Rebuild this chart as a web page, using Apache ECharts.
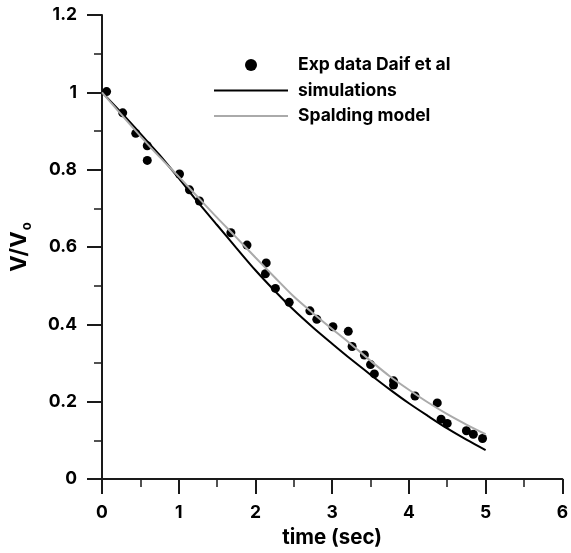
<!DOCTYPE html>
<html>
<head>
<meta charset="utf-8">
<script src="https://cdn.jsdelivr.net/npm/echarts@6/dist/echarts.min.js"></script>
<style>
  html, body { margin: 0; padding: 0; background: #fff; }
  #chart { width: 571px; height: 553px; }
</style>
</head>
<body>
<div id="chart"></div>
<script>
// Experimental droplet velocity ratio (Daif et al)
const timeExp = [0.06, 0.27, 0.44, 0.59, 0.59, 1.01, 1.14, 1.27, 1.68, 1.89, 2.13, 2.14, 2.26, 2.44,
                 2.71, 2.80, 3.01, 3.21, 3.26, 3.42, 3.50, 3.55, 3.80, 3.80, 4.08, 4.37, 4.42, 4.50,
                 4.75, 4.84, 4.96];
const vExp = [1.002, 0.947, 0.894, 0.862, 0.824, 0.789, 0.748, 0.719, 0.637, 0.605, 0.531, 0.559, 0.493, 0.457,
              0.435, 0.413, 0.394, 0.382, 0.343, 0.321, 0.296, 0.272, 0.254, 0.243, 0.215, 0.197, 0.155, 0.144,
              0.125, 0.116, 0.105];

// Model curves sampled every 0.25 s
const timeModel = [0, 0.25, 0.5, 0.75, 1.0, 1.25, 1.5, 1.75, 2.0, 2.25, 2.5, 2.75, 3.0, 3.25, 3.5, 3.75,
                   4.0, 4.25, 4.5, 4.75, 5.0];
const vSimulations = [1.0, 0.948, 0.893, 0.838, 0.778, 0.716, 0.657, 0.598, 0.540, 0.487, 0.437, 0.392,
                      0.350, 0.309, 0.270, 0.232, 0.196, 0.163, 0.131, 0.102, 0.075];
const vSpalding = [1.0, 0.943, 0.887, 0.833, 0.782, 0.729, 0.676, 0.625, 0.573, 0.522, 0.472, 0.429,
                   0.388, 0.348, 0.306, 0.266, 0.231, 0.198, 0.168, 0.141, 0.116];

const seriesNames = ['Exp data Daif et al', 'simulations', 'Spalding model'];
const xTitle = 'time (sec)';

const pairs = (xs, ys) => xs.map((x, i) => [x, ys[i]]);

const FONT = 'Inter, "Liberation Sans", Arial, sans-serif';
const AX = '#1a1a1a';
const GREY = '#aaaaaa';

const axisCommon = {
  axisLine: { show: true, onZero: false, lineStyle: { color: AX, width: 2 } },
  axisTick: { show: true, inside: false, length: 15, lineStyle: { color: AX, width: 2 } },
  minorTick: { show: true, splitNumber: 2, length: 8, lineStyle: { color: AX, width: 1.5 } },
  splitLine: { show: false },
  minorSplitLine: { show: false },
  axisLabel: { color: '#000', fontFamily: FONT, fontWeight: 'bold', fontSize: 17.5 }
};

const chart = echarts.init(document.getElementById('chart'), null, { renderer: 'canvas' });

chart.setOption({
  animation: false,
  backgroundColor: '#fff',
  grid: { left: 97.7, right: 5.3, top: 15, bottom: 71, containLabel: false },
  legend: {
    orient: 'vertical',
    left: 208,
    top: 51,
    itemWidth: 74,
    itemHeight: 12,
    itemGap: 7.5,
    textStyle: { color: '#000', fontFamily: FONT, fontWeight: 'bold', fontSize: 17.5, padding: [0, 0, 0, 5] },
    data: [
      { name: seriesNames[0], icon: 'circle' },
      { name: seriesNames[1], itemStyle: { opacity: 0 } },
      { name: seriesNames[2], itemStyle: { opacity: 0 } }
    ]
  },
  xAxis: Object.assign({}, axisCommon, {
    type: 'value',
    min: 0, max: 6, interval: 1,
    name: xTitle,
    nameLocation: 'middle',
    nameGap: 46,
    nameTextStyle: { color: '#000', fontFamily: FONT, fontWeight: 'bold', fontSize: 20.5 },
    axisLabel: Object.assign({}, axisCommon.axisLabel, { margin: 25 })
  }),
  yAxis: Object.assign({}, axisCommon, {
    type: 'value',
    min: 0, max: 1.2, interval: 0.2,
    name: 'V/V{sub|o}',
    nameLocation: 'middle',
    nameGap: 68,
    nameRotate: 90,
    nameTextStyle: {
      color: '#000', fontFamily: FONT, fontWeight: 'bold', fontSize: 22,
      rich: {
        sub: { fontFamily: FONT, fontWeight: 'bold', fontSize: 13, padding: [17, 0, 0, 1], verticalAlign: 'bottom' }
      }
    },
    axisLabel: Object.assign({}, axisCommon.axisLabel, { margin: 25 })
  }),
  series: [
    {
      name: seriesNames[0],
      type: 'scatter',
      data: pairs(timeExp, vExp),
      symbol: 'circle',
      symbolSize: 9,
      itemStyle: { color: '#000', opacity: 1 },
      z: 2
    },
    {
      name: seriesNames[1],
      type: 'line',
      data: pairs(timeModel, vSimulations),
      symbol: 'none',
      smooth: 0.3,
      lineStyle: { color: '#000', width: 2 },
      itemStyle: { color: '#000' },
      z: 3
    },
    {
      name: seriesNames[2],
      type: 'line',
      data: pairs(timeModel, vSpalding),
      symbol: 'none',
      smooth: 0.3,
      lineStyle: { color: GREY, width: 2 },
      itemStyle: { color: GREY },
      z: 4
    }
  ]
});
</script>
</body>
</html>
